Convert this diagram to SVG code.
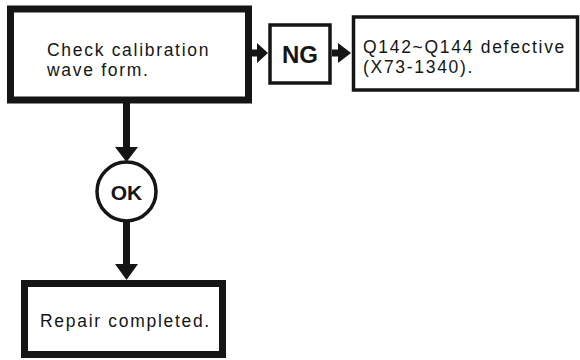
<svg xmlns="http://www.w3.org/2000/svg" width="580" height="360" viewBox="0 0 580 360">
<style>
.thick{fill:#fff;stroke:#151515;stroke-width:7}
.thin{fill:#fff;stroke:#151515;stroke-width:3.5}
.t{font-family:"Liberation Sans",Arial,sans-serif;font-size:17.5px;fill:#151515;letter-spacing:1.7px}
.ng{font-family:"Liberation Sans",Arial,sans-serif;font-size:24px;font-weight:bold;fill:#151515}
.ok{font-family:"Liberation Sans",Arial,sans-serif;font-size:21px;font-weight:bold;fill:#151515}
.stem{stroke:#151515;stroke-width:7;fill:none}
.head{fill:#151515}
</style>
<rect width="580" height="360" fill="#fff"/>
<g id="connectors">
  <line class="stem" x1="252" y1="53" x2="259" y2="53"/>
  <polygon class="head" points="257,43 268,53 257,63"/>
  <line class="stem" x1="332" y1="53" x2="340" y2="53"/>
  <polygon class="head" points="338,43 351,53 338,63"/>
  <line class="stem" x1="126.5" y1="103" x2="126.5" y2="150"/>
  <polygon class="head" points="115,147 138,147 126.5,162"/>
  <line class="stem" x1="126.5" y1="221" x2="126.5" y2="266"/>
  <polygon class="head" points="115,264 138,264 126.5,280"/>
</g>
<g id="check">
  <rect class="thick" x="10.5" y="9" width="238" height="91"/>
  <text class="t" x="47" y="55.5">Check calibration</text>
  <text class="t" x="47" y="75.5">wave form.</text>
</g>
<g id="ng">
  <rect class="thin" x="270" y="25" width="60" height="58"/>
  <text class="ng" x="300" y="63" text-anchor="middle">NG</text>
</g>
<g id="defective">
  <rect class="thin" x="353.5" y="17" width="224" height="73"/>
  <text class="t" x="363" y="52.5" letter-spacing="2.9">Q142~Q144 defective</text>
  <text class="t" x="363" y="72.5" letter-spacing="2.9">(X73-1340).</text>
</g>
<g id="ok">
  <circle class="thin" cx="126.5" cy="191.5" r="29.5"/>
  <text class="ok" x="126.5" y="200" text-anchor="middle">OK</text>
</g>
<g id="repair">
  <rect class="thick" x="24.5" y="283.5" width="198" height="71"/>
  <text class="t" x="40" y="327" letter-spacing="1.6">Repair completed.</text>
</g>
</svg>
